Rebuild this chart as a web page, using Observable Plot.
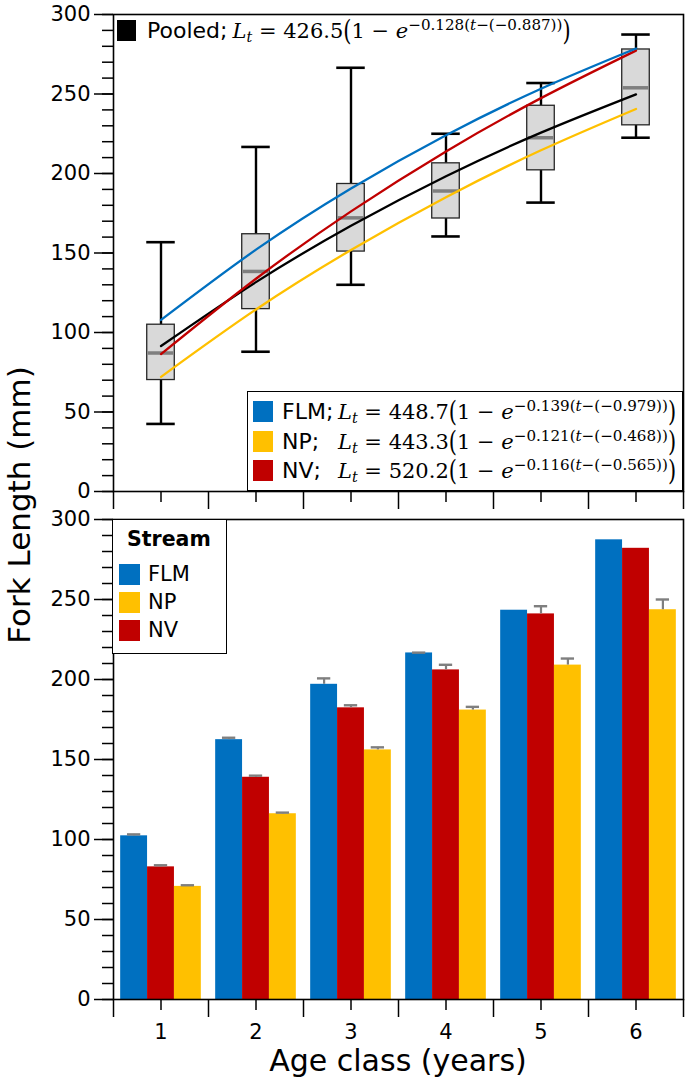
<!DOCTYPE html>
<html><head><meta charset="utf-8">
<script src="https://cdn.jsdelivr.net/npm/d3@7"></script>
<script src="https://cdn.jsdelivr.net/npm/@observablehq/plot@0.6"></script>
<style>
body{margin:0;background:#fff;font-family:"DejaVu Sans",sans-serif;}
#wrap{position:relative;width:685px;height:1078px;overflow:hidden;background:#fff;}
#wrap svg{display:block;overflow:visible;}
.abs{position:absolute;white-space:nowrap;color:#000;line-height:22px;}
.sw{position:absolute;}
.lab{font-family:"DejaVu Sans",sans-serif;font-size:22px;}
.eq{font-family:"DejaVu Serif",serif;font-size:21px;}
.eq sub{font-size:0.68em;vertical-align:-0.3em;line-height:0;}
.eq sup{font-size:0.72em;vertical-align:0.55em;line-height:0;}
.bp{display:inline-block;transform:scaleY(1.3);line-height:0;}
</style></head>
<body><div id="wrap"><div id="topPanel"></div><div id="bottomPanel"></div></div>
<script>
// ---------- data ----------
const ages = [1, 2, 3, 4, 5, 6];
const ageBounds = [0.5, 1.5, 2.5, 3.5, 4.5, 5.5, 6.5];
const yMajorTicks = [0, 50, 100, 150, 200, 250, 300];
const yMinorTicks = [0, 10, 20, 30, 40, 50, 60, 70, 80, 90, 100, 110, 120, 130, 140, 150, 160, 170, 180, 190, 200, 210, 220, 230, 240, 250, 260, 270, 280, 290, 300];

// pooled box plots (top panel)
const whiskerLow  = [42.5, 87.9, 130.0, 160.4, 181.7, 222.5];
const q1          = [70.1, 114.7, 150.9, 171.7, 202.0, 230.3];
const median      = [87.1, 138.4, 172.1, 189.0, 222.5, 253.9];
const q3          = [104.9, 161.8, 193.4, 206.4, 242.6, 278.0];
const whiskerHigh = [156.8, 216.7, 266.5, 225.0, 256.9, 287.4];

// fitted growth curves read at each age (top panel)
const pooledFit = [91.5, 131.7, 167.1, 198.3, 225.7, 249.8];
const flmFit    = [107.9, 152.1, 190.6, 224.1, 253.3, 278.6];
const npFit     = [72.1, 114.5, 151.9, 185.1, 214.6, 240.6];
const nvFit     = [86.4, 133.8, 176.2, 213.9, 247.4, 277.3];

// mean fork length +/- SE per stream (bottom panel)
const streams = ["FLM", "NP", "NV"];
const barOrder = ["FLM", "NV", "NP"];
const flmMean = [102.3, 162.4, 197.0, 216.6, 243.3, 287.3];
const nvMean  = [82.9, 138.9, 182.3, 206.0, 241.0, 282.0];
const npMean  = [70.7, 116.1, 156.0, 180.9, 209.0, 243.6];
const flmSE   = [0.9, 1.2, 3.7, 0.2, 0, 0];
const nvSE    = [1.0, 1.0, 1.6, 3.2, 4.8, 0];
const npSE    = [0.7, 0.7, 1.6, 2.0, 4.1, 6.4];

// ---------- styling ----------
const BLUE = "#0070C0", YELLOW = "#FFC000", RED = "#C00000";
const streamColors = {FLM: BLUE, NP: YELLOW, NV: RED};
const boxHalf = 0.145, capHalf = 0.15, barW = 0.283, ebCapHalf = 0.07;
const baseStyle = {fontFamily: "DejaVu Sans, sans-serif", fontSize: "21px", color: "black", background: "transparent", overflow: "visible"};

// ---------- top panel ----------
const boxes = ages.map((a, i) => ({age: a, lo: whiskerLow[i], q1: q1[i], med: median[i], q3: q3[i], hi: whiskerHigh[i]}));
const fitSeries = [
  {name: "Pooled", vals: pooledFit, color: "black"},
  {name: "NP", vals: npFit, color: YELLOW},
  {name: "NV", vals: nvFit, color: RED},
  {name: "FLM", vals: flmFit, color: BLUE}
];

function axesMarks(withLabels) {
  return [
    Plot.axisY({ticks: yMajorTicks, tickSize: 19, tickPadding: 4, label: null, strokeWidth: 1.5}),
    Plot.axisY({ticks: yMinorTicks, tickSize: 11, text: null, label: null, strokeWidth: 1.5}),
    Plot.axisX({ticks: ageBounds, tickSize: 18, text: null, label: null, strokeWidth: 1.5}),
    Plot.axisX({ticks: ages, tickSize: 11, tickPadding: withLabels ? 14 : 0, text: withLabels ? undefined : null, tickFormat: d => String(d), label: null, strokeWidth: 1.5})
  ];
}

const topPlot = Plot.plot({
  width: 685, height: 505,
  marginLeft: 113, marginRight: 2, marginTop: 14, marginBottom: 14,
  style: baseStyle,
  x: {type: "linear", domain: [0.5, 6.5], axis: null},
  y: {domain: [0, 300], axis: null},
  marks: [
    ...axesMarks(false),
    Plot.ruleX(boxes, {x: "age", y1: "q3", y2: "hi", stroke: "black", strokeWidth: 2.4}),
    Plot.ruleX(boxes, {x: "age", y1: "lo", y2: "q1", stroke: "black", strokeWidth: 2.4}),
    Plot.ruleY(boxes, {y: "hi", x1: d => d.age - capHalf, x2: d => d.age + capHalf, stroke: "black", strokeWidth: 2.6}),
    Plot.ruleY(boxes, {y: "lo", x1: d => d.age - capHalf, x2: d => d.age + capHalf, stroke: "black", strokeWidth: 2.6}),
    Plot.rect(boxes, {x1: d => d.age - boxHalf, x2: d => d.age + boxHalf, y1: "q1", y2: "q3", fill: "#d9d9d9", stroke: "#262626", strokeWidth: 1.3}),
    Plot.ruleY(boxes, {y: "med", x1: d => d.age - boxHalf + 0.01, x2: d => d.age + boxHalf - 0.01, stroke: "#7f7f7f", strokeWidth: 3.5}),
    ...fitSeries.map(s => Plot.line(ages.map((a, i) => ({age: a, v: s.vals[i]})), {x: "age", y: "v", stroke: s.color, strokeWidth: 2.3, curve: "natural"})),
    Plot.frame({stroke: "black", strokeWidth: 1.6})
  ]
});
document.getElementById("topPanel").appendChild(topPlot);

// ---------- bottom panel ----------
const means = {FLM: flmMean, NV: nvMean, NP: npMean};
const ses = {FLM: flmSE, NV: nvSE, NP: npSE};
const bars = [];
barOrder.forEach((s, k) => ages.forEach((a, i) => bars.push({age: a, stream: s, k, mean: means[s][i], se: ses[s][i]})));
const cx = d => d.age + (d.k - 1) * barW;

const bottomPlot = Plot.plot({
  width: 685, height: 573,
  marginLeft: 113, marginRight: 2, marginTop: 14, marginBottom: 79,
  style: baseStyle,
  x: {type: "linear", domain: [0.5, 6.5], axis: null},
  y: {domain: [0, 300], axis: null},
  color: {domain: streams, range: streams.map(s => streamColors[s])},
  marks: [
    ...axesMarks(true),
    Plot.rect(bars, {x1: d => cx(d) - barW / 2, x2: d => cx(d) + barW / 2, y1: 0, y2: "mean", fill: "stream"}),
    Plot.ruleX(bars.filter(d => d.se > 0), {x: cx, y1: "mean", y2: d => d.mean + d.se, stroke: "#7f7f7f", strokeWidth: 2.2}),
    Plot.ruleY(bars.filter(d => d.se > 0), {y: d => d.mean + d.se, x1: d => cx(d) - ebCapHalf, x2: d => cx(d) + ebCapHalf, stroke: "#7f7f7f", strokeWidth: 2.4}),
    Plot.frame({stroke: "black", strokeWidth: 1.6})
  ]
});
document.getElementById("bottomPanel").appendChild(bottomPlot);

// ---------- text overlays ----------
const wrap = document.getElementById("wrap");
function add(html, css, cls) {
  const d = document.createElement("div");
  d.className = cls || "abs";
  d.innerHTML = html;
  Object.assign(d.style, css);
  wrap.appendChild(d);
  return d;
}
function eq(Linf, K, t0) {
  return `<span class="eq"><i>L</i><sub><i>t</i></sub> = ${Linf}<span class="bp">(</span>1 − <i>e</i><sup>−${K}(<i>t</i>−(−${t0}))</sup><span class="bp">)</span></span>`;
}

// axis titles
add("Fork Length (mm)", {left: "19px", top: "505px", fontSize: "31px", lineHeight: "31px", transform: "translate(-50%,-50%) rotate(-90deg)"});
add("Age class (years)", {left: "398px", top: "1046px", fontSize: "30px", lineHeight: "30px", transform: "translateX(-50%)"});

// pooled legend
add("", {left: "117px", top: "20px", width: "19px", height: "21px", background: "black"}, "sw");
add(`<span class="lab">Pooled;</span> ${eq("426.5", "0.128", "0.887")}`, {left: "147px", top: "20px"});

// fit legend box
add("", {left: "247px", top: "391px", width: "436px", height: "100px", border: "1.6px solid black", boxSizing: "border-box", background: "white"}, "sw");
const fitRows = [
  {name: "FLM", lab: "FLM;", Linf: "448.7", K: "0.139", t0: "0.979", top: 401},
  {name: "NP", lab: "NP;&nbsp;&nbsp;", Linf: "443.3", K: "0.121", t0: "0.468", top: 431},
  {name: "NV", lab: "NV;&nbsp;&nbsp;", Linf: "520.2", K: "0.116", t0: "0.565", top: 460}
];
fitRows.forEach(r => {
  add("", {left: "253px", top: r.top + "px", width: "20px", height: "21px", background: streamColors[r.name]}, "sw");
  add(`<span class="lab">${r.lab}</span>`, {left: "282px", top: r.top + "px"});
  add(eq(r.Linf, r.K, r.t0), {left: "338px", top: r.top + "px"});
});

// stream legend (bottom panel)
add("", {left: "112px", top: "519px", width: "115px", height: "135px", border: "1.6px solid black", boxSizing: "border-box", background: "white"}, "sw");
add("Stream", {left: "127px", top: "528px", fontSize: "20.5px", fontWeight: "bold"});
streams.forEach((s, i) => {
  const t = 564 + i * 28;
  add("", {left: "119px", top: t + "px", width: "21px", height: "21px", background: streamColors[s]}, "sw");
  add(s, {left: "148px", top: (t - 1) + "px", fontSize: "21px"});
});
</script>
</body></html>
